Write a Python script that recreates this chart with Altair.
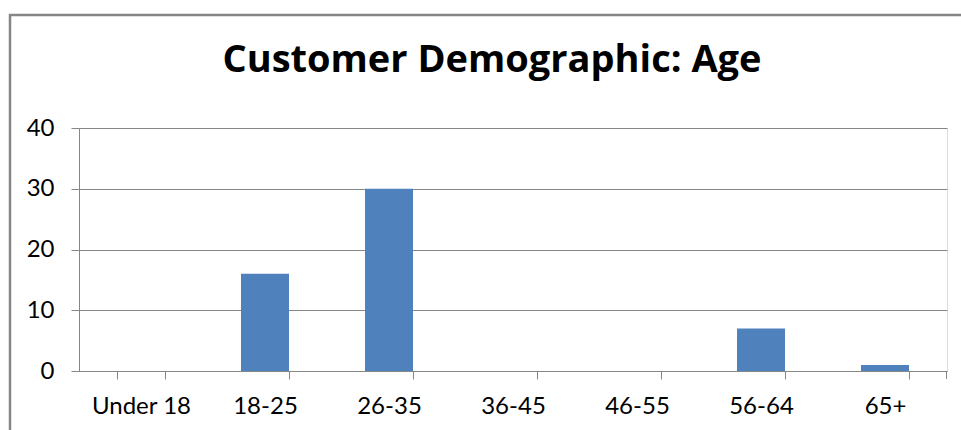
import altair as alt
import pandas as pd

categories = ["Under 18", "18-25", "26-35", "36-45", "46-55", "56-64", "65+"]
counts = [0, 16, 30, 0, 0, 7, 1]
y_ticks = [0, 10, 20, 30, 40]

df = pd.DataFrame({"age": categories, "count": counts})

GRAY = "#868686"
FONT = "Lato"

bars = alt.Chart(df).mark_bar(color="#4F81BD").encode(
    x=alt.X(
        "age:N",
        sort=categories,
        title=None,
        scale=alt.Scale(paddingInner=0.613, paddingOuter=0.3065),
        axis=alt.Axis(
            labelAngle=0,
            labelFont=FONT,
            labelFontSize=24,
            labelColor="#000000",
            labelPadding=15,
            tickSize=8,
            tickColor=GRAY,
            tickBand="extent",
            domainColor=GRAY,
            grid=False,
        ),
    ),
    y=alt.Y(
        "count:Q",
        title=None,
        scale=alt.Scale(domain=[0, 40], nice=False),
        axis=alt.Axis(
            values=y_ticks,
            labelFont=FONT,
            labelFontSize=24,
            labelColor="#000000",
            labelPadding=17,
            tickSize=8,
            tickColor=GRAY,
            domainColor=GRAY,
            gridColor=GRAY,
            gridWidth=1,
        ),
    ),
)

frame_df = pd.DataFrame({"k": [0]})
frame = alt.Chart(frame_df).mark_rect(
    fill=None, stroke=GRAY, strokeWidth=2.5
).encode(
    x=alt.value(-69), x2=alt.value(896), y=alt.value(-113), y2=alt.value(320)
)

end_tick = alt.Chart(frame_df).mark_rule(color=GRAY, strokeWidth=1).encode(
    x=alt.value(867.5), y=alt.value(243), y2=alt.value(251)
)

chart = (
    alt.layer(frame, bars, end_tick)
    .properties(
        width=868,
        height=243,
        autosize=alt.AutoSizeParams(type="none"),
        padding={"left": 79, "top": 128, "right": 14, "bottom": 59},
        title=alt.TitleParams(
            "Customer Demographic: Age",
            font="Open Sans",
            fontSize=38,
            fontWeight="bold",
            color="#000000",
            anchor="middle",
            baseline="alphabetic",
            dx=-21,
            offset=-96,
        ),
    )
    .configure_view(stroke=None)
    .configure(background="#ffffff")
)

chart.save("out.html", embed_options={"renderer": "svg", "actions": False})
